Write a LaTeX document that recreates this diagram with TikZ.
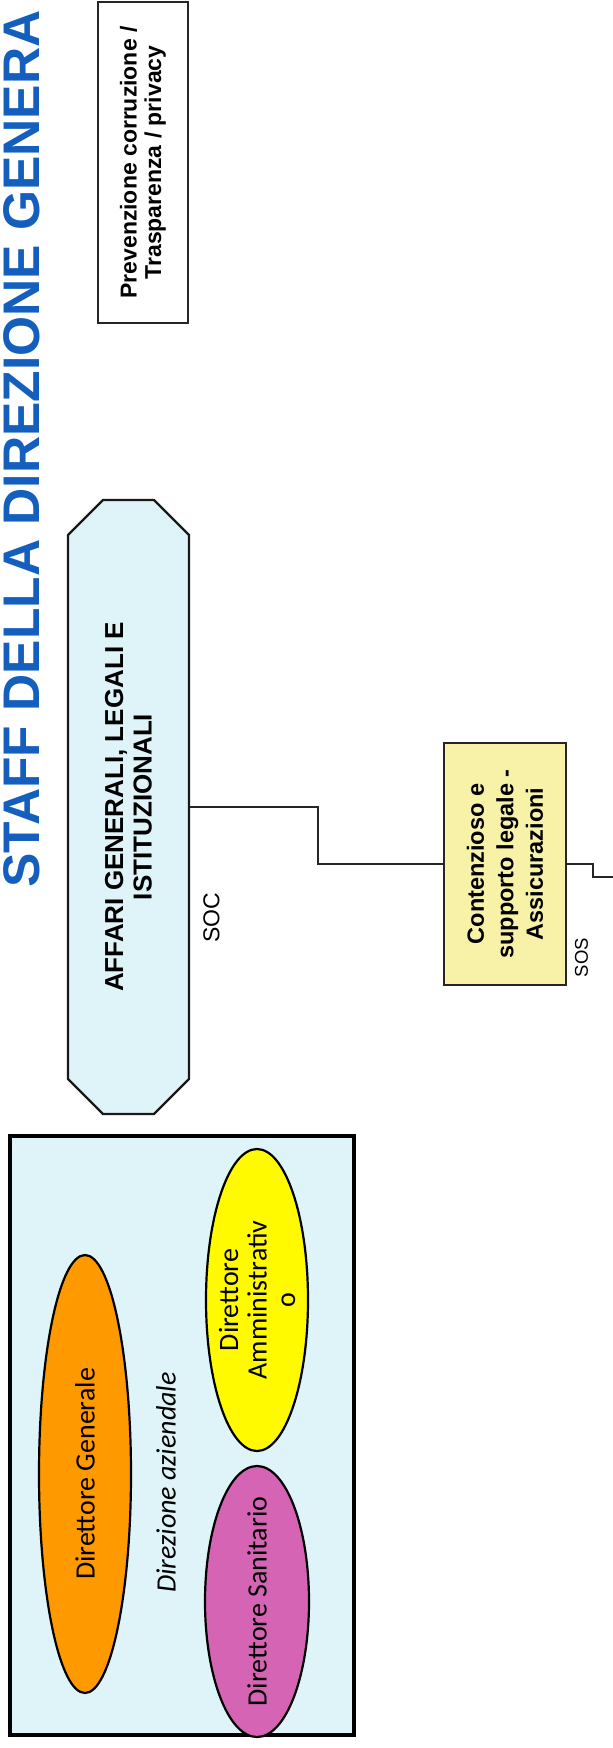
\documentclass[tikz,border=0pt]{standalone}
\usepackage{fontspec}
\usetikzlibrary{positioning, calc, shapes.geometric}
\newfontfamily\helv{Liberation Sans}
\newfontfamily\cali{Carlito}
\definecolor{titleblue}{RGB}{20,95,190}
\definecolor{paleblue}{RGB}{222,244,248}
\definecolor{paleyellow}{RGB}{247,242,168}
\definecolor{dgorange}{RGB}{255,153,0}
\definecolor{dsmagenta}{RGB}{214,100,180}
\definecolor{dayellow}{RGB}{255,250,0}

\begin{document}
\begin{tikzpicture}[x=1pt, y=-1pt,
  unit/.style={draw=black!85, line width=1.6pt, rotate=90, align=center, inner sep=0pt,
               font=\helv\bfseries\fontsize{23}{24.5}\selectfont},
  prevbox/.style={unit, fill=white, minimum width=321pt, minimum height=90pt},
  socbox/.style={unit, draw=none, minimum width=614pt, minimum height=121pt,
                 font=\helv\bfseries\fontsize{26}{28.5}\selectfont},
  octo/.style={draw=black!90, line width=2.4pt, fill=paleblue},
  sosbox/.style={unit, fill=paleyellow, minimum width=242pt, minimum height=122pt,
                 font=\helv\bfseries\fontsize{23.5}{29.5}\selectfont},
  tag/.style={rotate=90, inner sep=0pt, font=\helv\fontsize{23}{25}\selectfont},
  dirl/.style={ellipse, draw=black, line width=2.2pt, rotate=90, align=center,
               inner xsep=-60pt, inner ysep=-30pt,
               font=\cali\fontsize{28}{28.5}\selectfont},
  link/.style={draw=black!85, line width=1.6pt}]

  \useasboundingbox (0,0) rectangle (613,1748);
  \clip (0,0) rectangle (613,1748);

  %% title
  \node[rotate=90, anchor=base west, inner sep=0pt, text=titleblue,
        font=\helv\bfseries\fontsize{51.5}{58}\selectfont] (ttl) at (39.5,888)
        {STAFF DELLA DIREZIONE GENERA};

  %% staff units
  \node[prevbox] (prev) at (143,162.5) {Prevenzione corruzione /\\Trasparenza / privacy};
  \draw[octo] (68,535) -- (103,500) -- (154,500) -- (189,535) -- (189,1079)
              -- (154,1114) -- (103,1114) -- (68,1079) -- cycle;
  \node[socbox]  (agl)  at (128.5,807) {AFFARI GENERALI, LEGALI E\\ISTITUZIONALI};
  \node[sosbox]  (cont) at (505,864)   {Contenzioso e\\supporto legale -\\Assicurazioni};
  \node[tag] (soc) at (211.5,918) {SOC};
  \node[tag, font=\helv\fontsize{18.5}{20}\selectfont] (sos) at (581.5,957.5) {SOS};

  \coordinate (out) at (613,877);
  \draw[link] (agl.south) -- ++(128,0) |- (cont.north);
  \draw[link] (cont.south) -- ++(26,0) |- (out);

  %% direzione aziendale
  \node[draw=black, line width=4pt, fill=paleblue, minimum width=344.5pt,
        minimum height=599pt, inner sep=0pt] (dir) at (181.75,1435.5) {};
  \node[dirl, fill=dgorange,  minimum width=438pt, minimum height=92pt]  (dg) at (85,1474)    {Direttore Generale};
  \node[dirl, fill=dayellow,  minimum width=302pt, minimum height=102pt] (da) at (257,1300)   {Direttore\\Amministrativ\\o};
  \node[dirl, fill=dsmagenta, minimum width=271pt, minimum height=104pt] (ds) at (257,1601.5) {Direttore Sanitario};
  \node[rotate=90, inner sep=0pt, font=\cali\itshape\fontsize{28}{30}\selectfont] (dirlab) at (166,1482.5) {Direzione aziendale};
\end{tikzpicture}
\end{document}
